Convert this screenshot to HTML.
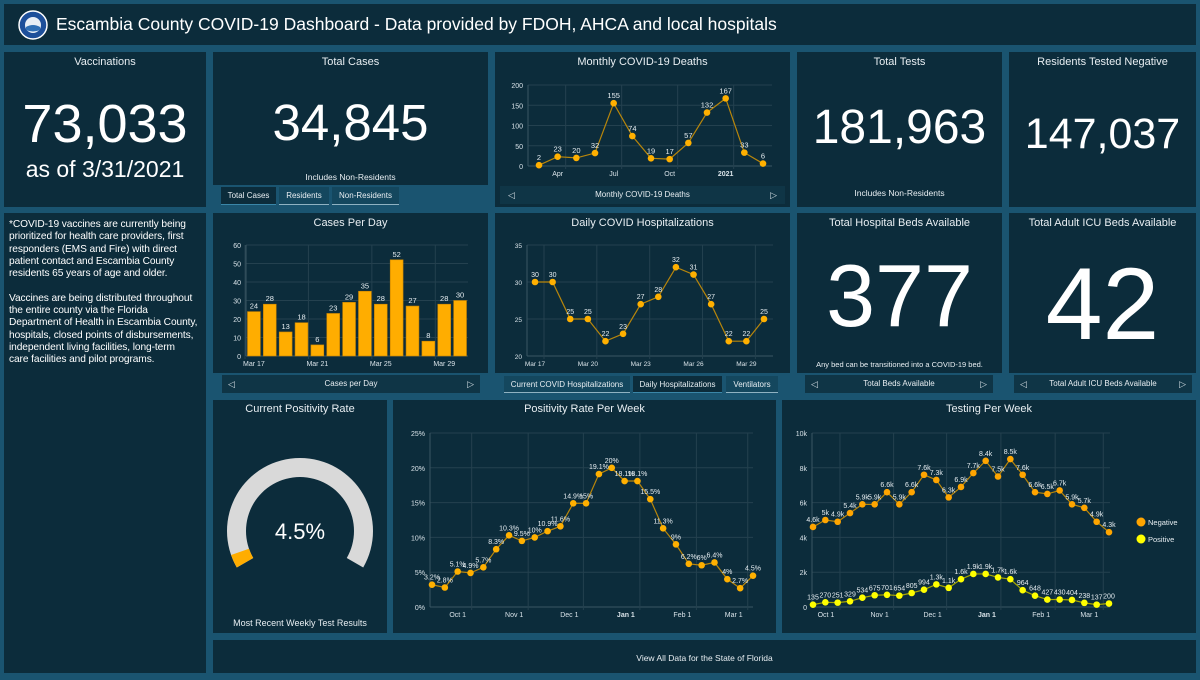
<!DOCTYPE html>
<html><head><meta charset="utf-8">
<style>
*{box-sizing:border-box;margin:0;padding:0}
body{width:1200px;height:680px;background:#1a5470;font-family:"Liberation Sans",sans-serif;color:#fff;position:relative;overflow:hidden}
.p{position:absolute;background:#0c2c3b}
.t{position:absolute;left:0;right:0;text-align:center;font-size:11px;color:#e8eef2}
.big{position:absolute;left:0;right:0;text-align:center;color:#fff}
.tab{position:absolute;background:#14475e;font-size:8px;color:#e8eef2;text-align:center;line-height:17px;border-bottom:1px solid #8fb2c2}
.foot{position:absolute;background:#0f3546;font-size:8px;color:#e8eef2;text-align:center;line-height:18px}
.arr{position:absolute;top:0;font-size:9px;color:#cfd9df}
svg text{font-family:"Liberation Sans",sans-serif}
</style></head><body>
<div class="p" style="left:4px;top:4px;width:1192px;height:41px">
  <svg width="30" height="30" style="position:absolute;left:14px;top:6px"><circle cx="15" cy="15" r="14" fill="#1d4f9a" stroke="#fff" stroke-width="1.5"/><circle cx="15" cy="15" r="8" fill="#e8eef5"/><path d="M8 17 Q15 13 22 17 L22 20 Q15 23 8 20Z" fill="#2f6fb5"/></svg>
  <div style="position:absolute;left:52px;top:10px;font-size:17.5px;color:#fff">Escambia County COVID-19 Dashboard - Data provided by FDOH, AHCA and local hospitals</div>
</div>

<div class="p" style="left:4px;top:52px;width:202px;height:155px">
  <div class="t" style="top:4px">Vaccinations</div>
  <div class="big" style="top:41px;font-size:54px">73,033</div>
  <div class="big" style="top:104px;font-size:23px">as of 3/31/2021</div>
</div>

<div class="p" style="left:213px;top:52px;width:275px;height:155px">
  <div class="t" style="top:4px">Total Cases</div>
  <div class="big" style="top:41px;font-size:51px">34,845</div>
  <div class="t" style="top:120px;font-size:8.5px">Includes Non-Residents</div>
</div>
<div style="position:absolute;left:213px;top:185px;width:275px;height:22px;background:#1a5470"></div>
<div class="tab" style="left:221px;top:187px;width:55px;height:18px;background:#0c2c3b;border-bottom:1px solid #3a86a8">Total Cases</div>
<div class="tab" style="left:279px;top:187px;width:50px;height:18px">Residents</div>
<div class="tab" style="left:332px;top:187px;width:67px;height:18px">Non-Residents</div>

<div class="p" style="left:495px;top:52px;width:295px;height:155px">
  <div class="t" style="top:4px">Monthly COVID-19 Deaths</div>
</div>
<div class="foot" style="left:500px;top:186px;width:285px;height:18px">Monthly COVID-19 Deaths<span class="arr" style="left:8px">◁</span><span class="arr" style="right:8px">▷</span></div>

<div class="p" style="left:797px;top:52px;width:205px;height:155px">
  <div class="t" style="top:4px">Total Tests</div>
  <div class="big" style="top:48px;font-size:48px">181,963</div>
  <div class="t" style="top:136px;font-size:8.5px">Includes Non-Residents</div>
</div>
<div class="p" style="left:1009px;top:52px;width:187px;height:155px">
  <div class="t" style="top:4px">Residents Tested Negative</div>
  <div class="big" style="top:58px;font-size:43px">147,037</div>
</div>

<div class="p" style="left:4px;top:213px;width:202px;height:460px">
  <div style="position:absolute;left:5px;top:6px;font-size:10.2px;line-height:12.3px;color:#fff;white-space:nowrap;letter-spacing:-0.1px">*COVID-19 vaccines are currently being<br>prioritized for health care providers, first<br>responders (EMS and Fire) with direct<br>patient contact and Escambia County<br>residents 65 years of age and older.<br><br>Vaccines are being distributed throughout<br>the entire county via the Florida<br>Department of Health in Escambia County,<br>hospitals, closed points of disbursements,<br>independent living facilities, long-term<br>care facilities and pilot programs.</div>
</div>

<div class="p" style="left:213px;top:213px;width:275px;height:160px">
  <div class="t" style="top:4px">Cases Per Day</div>
</div>
<div class="foot" style="left:222px;top:375px;width:258px;height:18px">Cases per Day<span class="arr" style="left:6px">◁</span><span class="arr" style="right:6px">▷</span></div>

<div class="p" style="left:495px;top:213px;width:295px;height:160px">
  <div class="t" style="top:4px">Daily COVID Hospitalizations</div>
</div>
<div class="tab" style="left:504px;top:376px;width:126px;height:17px">Current COVID Hospitalizations</div>
<div class="tab" style="left:633px;top:376px;width:89px;height:17px;background:#0c2c3b;border-bottom:1px solid #3a86a8">Daily Hospitalizations</div>
<div class="tab" style="left:726px;top:376px;width:52px;height:17px">Ventilators</div>

<div class="p" style="left:797px;top:213px;width:205px;height:160px">
  <div class="t" style="top:4px">Total Hospital Beds Available</div>
  <div class="big" style="top:32px;font-size:88px">377</div>
  <div class="t" style="top:147px;font-size:7.5px">Any bed can be transitioned into a COVID-19 bed.</div>
</div>
<div class="foot" style="left:805px;top:375px;width:188px;height:18px">Total Beds Available<span class="arr" style="left:6px">◁</span><span class="arr" style="right:6px">▷</span></div>
<div class="p" style="left:1009px;top:213px;width:187px;height:160px">
  <div class="t" style="top:4px">Total Adult ICU Beds Available</div>
  <div class="big" style="top:33px;font-size:102px">42</div>
</div>
<div class="foot" style="left:1014px;top:375px;width:178px;height:18px">Total Adult ICU Beds Available<span class="arr" style="left:6px">◁</span><span class="arr" style="right:6px">▷</span></div>

<div class="p" style="left:213px;top:400px;width:174px;height:233px">
  <div class="t" style="top:3px">Current Positivity Rate</div>
  <div class="t" style="top:218px;font-size:9px">Most Recent Weekly Test Results</div>
</div>
<div class="p" style="left:393px;top:400px;width:383px;height:233px">
  <div class="t" style="top:3px">Positivity Rate Per Week</div>
</div>
<div class="p" style="left:782px;top:400px;width:414px;height:233px">
  <div class="t" style="top:3px">Testing Per Week</div>
</div>
<div class="p" style="left:213px;top:640px;width:983px;height:33px">
  <div class="t" style="top:13px;font-size:8.5px">View All Data for the State of Florida</div>
</div>

<svg id="charts" width="1200" height="680" style="position:absolute;left:0;top:0"></svg>

<script>
// Monthly deaths
const deathMonths = ["Mar","Apr","May","Jun","Jul","Aug","Sep","Oct","Nov","Dec","2021","Feb"];
const deathValues = [2,23,20,32,155,74,19,17,57,132,167,33,6];
const deathTicks = [0,50,100,150,200];
const deathXLabels = [{i:1,t:"Apr"},{i:4,t:"Jul"},{i:7,t:"Oct"},{i:10,t:"2021"}];
// Cases per day
const caseDays = ["Mar 17","Mar 18","Mar 19","Mar 20","Mar 21","Mar 22","Mar 23","Mar 24","Mar 25","Mar 26","Mar 27","Mar 28","Mar 29","Mar 30"];
const caseValues = [24,28,13,18,6,23,29,35,28,52,27,8,28,30];
const caseTicks = [0,10,20,30,40,50,60];
const caseXLabels = [{i:0,t:"Mar 17"},{i:4,t:"Mar 21"},{i:8,t:"Mar 25"},{i:12,t:"Mar 29"}];
// Hospitalizations
const hospValues = [30,30,25,25,22,23,27,28,32,31,27,22,22,25];
const hospTicks = [20,25,30,35];
const hospXLabels = [{i:0,t:"Mar 17"},{i:3,t:"Mar 20"},{i:6,t:"Mar 23"},{i:9,t:"Mar 26"},{i:12,t:"Mar 29"}];
// Positivity per week
const posRateValues = [3.2,2.8,5.1,4.9,5.7,8.3,10.3,9.5,10,10.9,11.6,14.9,14.9,19.1,20,18.1,18.1,15.5,11.3,9,6.2,6,6.4,4,2.7,4.5];
const posRateLabels = ["3.2%","2.8%","5.1%","4.9%","5.7%","8.3%","10.3%","9.5%","10%","10.9%","11.6%","14.9%","15%","19.1%","20%","18.1%","18.1%","15.5%","11.3%","9%","6.2%","6%","6.4%","4%","2.7%","4.5%"];
const posRateTicks = [0,5,10,15,20,25];
const posRateXLabels = [{i:2,t:"Oct 1"},{i:6.4,t:"Nov 1"},{i:10.7,t:"Dec 1"},{i:15.1,t:"Jan 1"},{i:19.5,t:"Feb 1"},{i:23.5,t:"Mar 1"}];
// Testing per week
const negValues = [4600,5000,4900,5400,5900,5900,6600,5900,6600,7600,7300,6300,6900,7700,8400,7500,8500,7600,6600,6500,6700,5900,5700,4900,4300];
const negLabels = ["4.6k","5k","4.9k","5.4k","5.9k","5.9k","6.6k","5.9k","6.6k","7.6k","7.3k","6.3k","6.9k","7.7k","8.4k","7.5k","8.5k","7.6k","6.6k","6.5k","6.7k","5.9k","5.7k","4.9k","4.3k"];
const posValues = [135,270,251,329,534,675,701,654,805,994,1300,1100,1600,1900,1900,1700,1600,964,648,427,430,404,238,137,200];
const posLabels = ["135","270","251","329","534","675","701","654","805","994","1.3k","1.1k","1.6k","1.9k","1.9k","1.7k","1.6k","964","648","427","430","404","238","137","200"];
const testTicks = [0,2000,4000,6000,8000,10000];
const testTickLabels = ["0","2k","4k","6k","8k","10k"];
const testXLabels = [{i:1.05,t:"Oct 1"},{i:5.4,t:"Nov 1"},{i:9.7,t:"Dec 1"},{i:14.1,t:"Jan 1"},{i:18.5,t:"Feb 1"},{i:22.4,t:"Mar 1"}];
// Gauge
const gaugeValue = 4.5;
const gaugeMax = 100;

const NS="http://www.w3.org/2000/svg";
const svg=document.getElementById('charts');
function mk(tag,attrs,parent){const e=document.createElementNS(NS,tag);for(const k in attrs)e.setAttribute(k,attrs[k]);(parent||svg).appendChild(e);return e;}
function scale(d0,d1,r0,r1){return v=>r0+(v-d0)/(d1-d0)*(r1-r0);}

function axes(g,cfg){
  cfg.yTicks.forEach((t,k)=>{
    const y=cfg.y(t);
    const gl=mk('line',{x1:cfg.x0,x2:cfg.x1,y1:y,y2:y,stroke:'#24414f','stroke-width':1},g);
    
    
    const tl=mk('text',{x:cfg.x0-5,y:y+3,'font-size':cfg.fs||7,fill:'#d8e2e8','text-anchor':'end'},g);
    tl.textContent=cfg.yLabels?cfg.yLabels[k]:t+(cfg.ySuffix||'');
    
    
  });
  mk('line',{x1:cfg.x0,x2:cfg.x0,y1:cfg.y(cfg.yTicks[cfg.yTicks.length-1]),y2:cfg.y(cfg.yTicks[0]),stroke:'#3a5663'},g);
  mk('line',{x1:cfg.x0,x2:cfg.x1,y1:cfg.y(cfg.yTicks[0]),y2:cfg.y(cfg.yTicks[0]),stroke:'#3a5663'},g);
  cfg.xLabels.forEach(o=>{
    const x=cfg.x(o.i);
    const vl=mk('line',{x1:x-cfg.xoff,x2:x-cfg.xoff,y1:cfg.y(cfg.yTicks[cfg.yTicks.length-1]),y2:cfg.y(cfg.yTicks[0])+3,stroke:'#24414f'},g);
    
    
    const xl=mk('text',{x:x,y:cfg.y(cfg.yTicks[0])+cfg.xly,'font-size':cfg.fs||7,fill:'#d8e2e8','text-anchor':'middle','font-weight':o.t==='2021'||o.t==='Jan 1'?'bold':'normal'},g);
    xl.textContent=o.t;
    
    
  });
}
function series(g,vals,labels,x,y,color,lineColor,r,fs){
  let d='';
  vals.forEach((v,i)=>{d+=(i?'L':'M')+x(i)+' '+y(v);});
  const p=mk('path',{d:d,fill:'none',stroke:lineColor,'stroke-width':1.2},g);
  
  
  vals.forEach((v,i)=>{
    const c=mk('circle',{cx:x(i),cy:y(v),r:r,fill:color},g);
    
    
    const t=mk('text',{x:x(i),y:y(v)-5,'font-size':fs,fill:'#e6edf1','text-anchor':'middle'},g);
    t.textContent=labels[i];
    
    
  });
}

(function(){
  const g=mk('g',{});
  
  
  const x=scale(0,deathValues.length-1,539,763), y=scale(0,200,166,85);
  axes(g,{x:x,y:y,x0:528,x1:772,yTicks:deathTicks,xLabels:deathXLabels,xoff:-8,xly:10,fs:7});
  series(g,deathValues,deathValues.map(String),x,y,'#ffb000','#b8860b',3.3,7.5);
})();

(function(){
  const g=mk('g',{});
  
  
  const slot=(468-246)/caseValues.length;
  const x=i=>246+slot*(i+0.5), y=scale(0,60,356,245);
  axes(g,{x:x,y:y,x0:246,x1:468,yTicks:caseTicks,xLabels:caseXLabels,xoff:slot/2+1,xly:10,fs:7});
  caseValues.forEach((v,i)=>{
    const b=mk('rect',{x:x(i)-slot/2+1.5,y:y(v),width:slot-3,height:y(0)-y(v),fill:'#ffad00',stroke:'#c98400','stroke-width':0.6},g);
    
    
    const t=mk('text',{x:x(i),y:y(v)-3,'font-size':7.5,fill:'#e6edf1','text-anchor':'middle'},g);
    t.textContent=v;
    
    
  });
})();

(function(){
  const g=mk('g',{});
  
  
  const x=scale(0,hospValues.length-1,535,764), y=scale(20,35,356,245);
  axes(g,{x:x,y:y,x0:527,x1:773,yTicks:hospTicks,xLabels:hospXLabels,xoff:-9,xly:10,fs:6.5});
  series(g,hospValues,hospValues.map(String),x,y,'#ffb000','#b8860b',3.3,7);
})();

(function(){
  const g=mk('g',{});
  
  
  const x=scale(0,posRateValues.length-1,432,753), y=scale(0,25,607,433);
  axes(g,{x:x,y:y,x0:430,x1:753,yTicks:posRateTicks,xLabels:posRateXLabels,ySuffix:'%',xoff:-14,xly:10,fs:7});
  series(g,posRateValues,posRateLabels,x,y,'#ffb000','#b8860b',3.3,7);
})();

(function(){
  const g=mk('g',{});
  
  
  const x=scale(0,negValues.length-1,813,1109), y=scale(0,10000,607,433);
  axes(g,{x:x,y:y,x0:812,x1:1110,yTicks:testTicks,yLabels:testTickLabels,xLabels:testXLabels,xoff:-14,xly:10,fs:7});
  series(g,negValues,negLabels,x,y,'#ffa500','#b8860b',3.3,7);
  series(g,posValues,posLabels,x,y,'#ffff00','#a8a800',3.3,7);
  const legend=[['Negative','#ffa500',522],['Positive','#ffff00',539]];
  legend.forEach(l=>{
    const c=mk('circle',{cx:1141,cy:l[2],r:4.5,fill:l[1]},g);
    
    
    const t=mk('text',{x:1148,y:l[2]+3,'font-size':7.5,fill:'#e6edf1'},g);
    t.textContent=l[0];
    
    
  });
})();

(function(){
  const g=mk('g',{});
  
  
  const cx=300,cy=531,R=73,r=54,a0=210,span=240;
  function arc(s,e){
    const p=(ang,rad)=>[cx+rad*Math.cos(ang*Math.PI/180),cy-rad*Math.sin(ang*Math.PI/180)];
    const [x1,y1]=p(s,R),[x2,y2]=p(e,R),[x3,y3]=p(e,r),[x4,y4]=p(s,r);
    const lg=(s-e)>180?1:0;
    return `M${x1} ${y1} A${R} ${R} 0 ${lg} 1 ${x2} ${y2} L${x3} ${y3} A${r} ${r} 0 ${lg} 0 ${x4} ${y4}Z`;
  }
  const bg=mk('path',{d:arc(a0,a0-span),fill:'#d9d9d9'},g);
  
  
  const fg=mk('path',{d:arc(a0,a0-span*gaugeValue/gaugeMax),fill:'#ffad00'},g);
  
  
  const t=mk('text',{x:cx,y:cy+8,'font-size':22,fill:'#fff','text-anchor':'middle'},g);
  t.textContent=gaugeValue+'%';
  
  
})();
</script>
</body></html>
